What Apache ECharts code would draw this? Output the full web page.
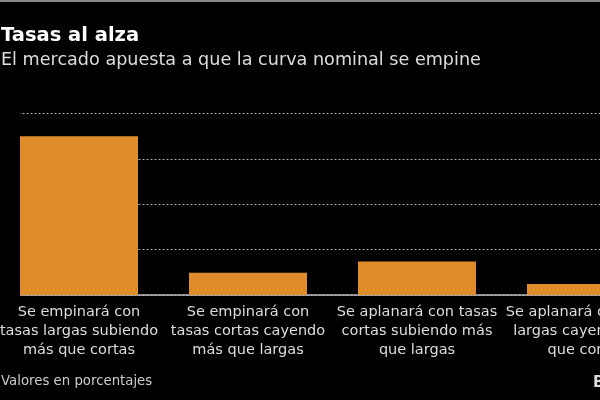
<!DOCTYPE html>
<html>
<head>
<meta charset="utf-8">
<script src="https://cdn.jsdelivr.net/npm/echarts@6/dist/echarts.min.js"></script>
<style>
  html, body { margin: 0; padding: 0; background: #000; }
  #main { width: 600px; height: 400px; }
</style>
</head>
<body>
<div id="main"></div>
<script>
// scenarios for the nominal curve
const categories = [
    'Se empinará con\ntasas largas subiendo\nmás que cortas',
    'Se empinará con\ntasas cortas cayendo\nmás que largas',
    'Se aplanará con tasas\ncortas subiendo más\nque largas',
    'Se aplanará con tasas\nlargas cayendo más\nque cortas'
];
// percentages
const values = [35, 4.9, 7.4, 2.4];
const yTicks = [0, 10, 20, 30, 40];

const chart = echarts.init(document.getElementById('main'));
const font = 'DejaVu Sans';

chart.setOption({
    backgroundColor: '#000',
    animation: false,
    title: [
        {
            text: 'Tasas al alza',
            subtext: 'El mercado apuesta a que la curva nominal se empine',
            left: 1,
            top: 26,
            padding: 0,
            itemGap: 5,
            textStyle: { color: '#fff', fontFamily: font, fontWeight: 'bold', fontSize: 19.5 },
            subtextStyle: { color: '#ddd', fontFamily: font, fontSize: 17.6 }
        },
        {
            text: 'Valores en porcentajes',
            left: 1,
            top: 375.5,
            padding: 0,
            textStyle: { color: '#ccc', fontFamily: font, fontWeight: 'normal', fontSize: 13.3 }
        },
        {
            text: 'B',
            left: 593,
            top: 376,
            padding: 0,
            textStyle: { color: '#ddd', fontFamily: font, fontWeight: 'bold', fontSize: 15 }
        }
    ],
    grid: {
        left: -5.5,
        top: 113.5,
        width: 676,
        height: 181.5,
        containLabel: false,
        outerBoundsMode: 'none'
    },
    xAxis: {
        type: 'category',
        data: categories,
        axisLine: { lineStyle: { color: '#bbb', width: 1.5 } },
        axisTick: { show: false },
        axisLabel: {
            interval: 0,
            color: '#ddd',
            fontFamily: font,
            fontSize: 14.5,
            lineHeight: 19,
            margin: 8
        }
    },
    yAxis: {
        type: 'value',
        min: yTicks[0],
        max: yTicks[yTicks.length - 1],
        interval: 10,
        axisLabel: { show: false },
        axisLine: { show: false },
        splitLine: { lineStyle: { color: '#aaa', type: [2, 2], width: 1 } }
    },
    graphic: [
        // top rule of the frame
        { type: 'rect', shape: { x: 0, y: 0, width: 600, height: 2 }, style: { fill: '#888' } },
        // plot area starts at the first bar's edge
        { type: 'rect', z: 10, shape: { x: 0, y: 100, width: 20, height: 197 }, style: { fill: '#000' } }
    ],
    series: [
        {
            type: 'bar',
            data: values,
            barWidth: 118,
            itemStyle: { color: '#df8c2a' }
        }
    ]
});
</script>
</body>
</html>
